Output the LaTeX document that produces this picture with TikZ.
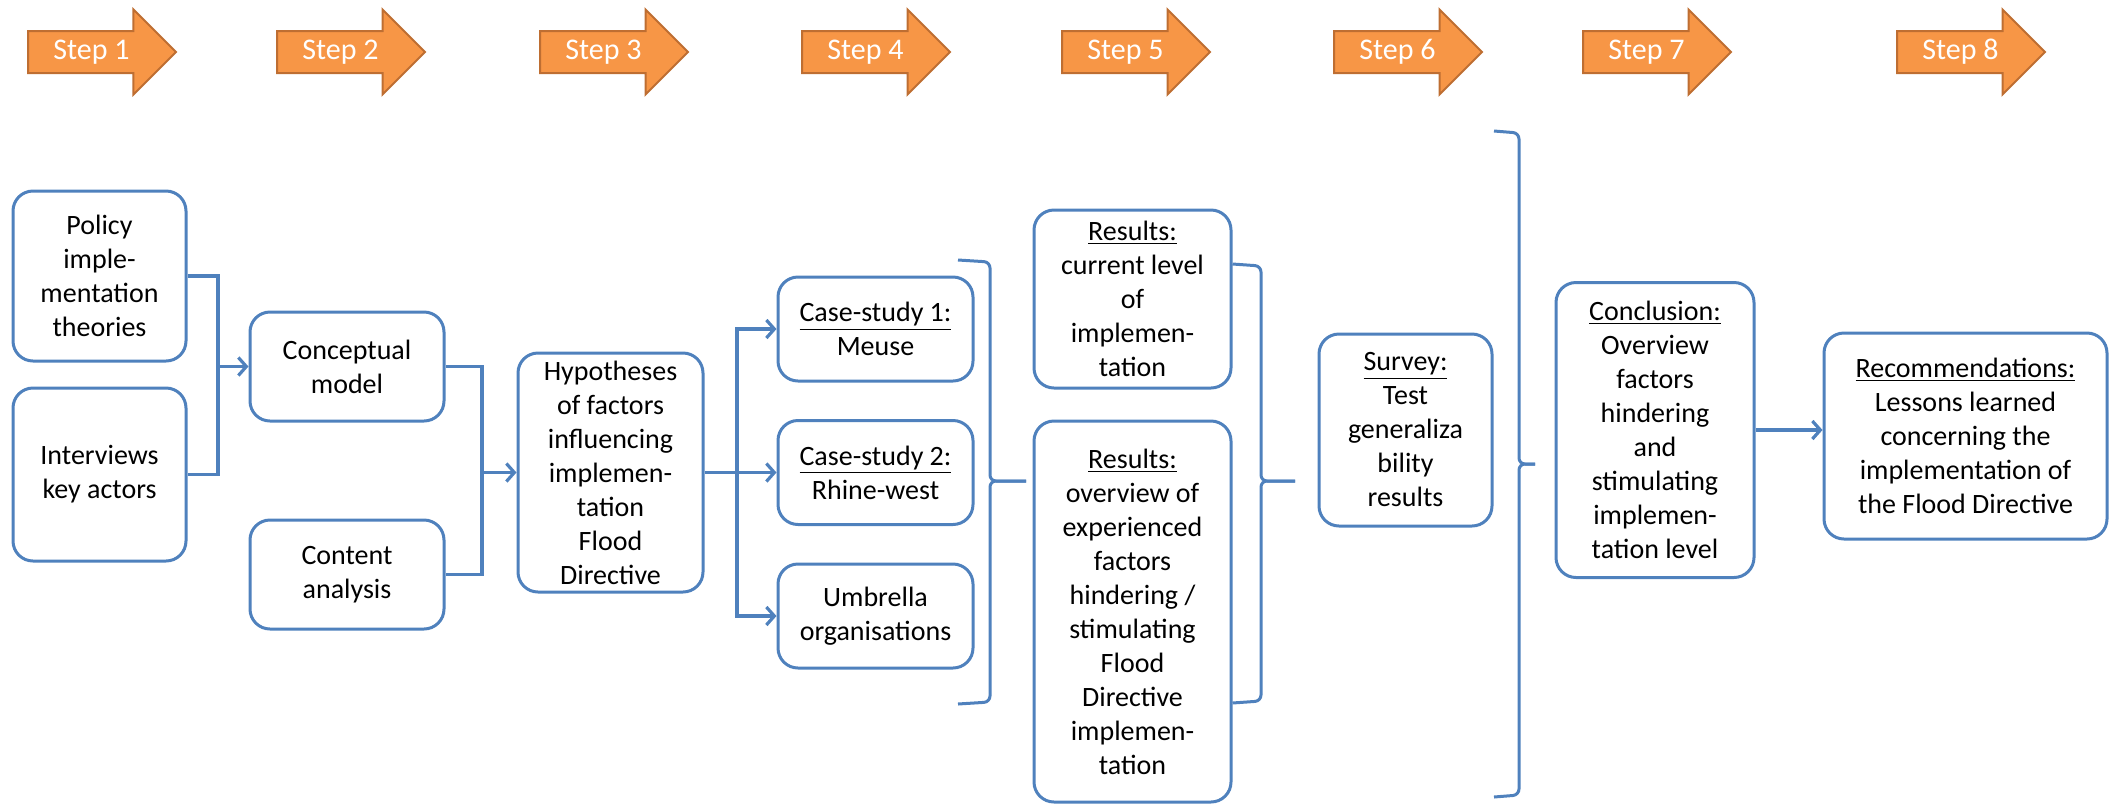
\documentclass[tikz,border=0pt]{standalone}
\usepackage{fontspec}
\setmainfont{Carlito}
\usepackage{tikz}
\usetikzlibrary{positioning,arrows.meta,shapes.arrows}
\definecolor{boxblue}{RGB}{79,129,189}
\definecolor{steporange}{RGB}{247,150,70}
\definecolor{stepedge}{RGB}{190,110,50}

\begin{document}
\begin{tikzpicture}[x=0.5pt, y=-0.5pt, font=\fontsize{14}{17}\selectfont,
  box/.style={draw=boxblue, line width=1.5pt, rounded corners=10pt, fill=white, align=center, inner sep=1pt},
  stepbox/.style={single arrow, draw=stepedge, line width=1pt, fill=steporange, text=white,
    font=\fontsize{15}{17}\selectfont, minimum height=74pt, single arrow head extend=10.75pt,
    text height=10pt, text depth=3pt, inner ysep=3.5pt, anchor=tail},
  flow/.style={draw=boxblue, line width=1.6pt, -{Straight Barb[length=4pt,width=9pt]}},
  link/.style={draw=boxblue, line width=1.6pt},
  brace/.style={draw=boxblue, line width=1.5pt, rounded corners=3pt}]
\useasboundingbox (0,0) rectangle (2111,805);

% step arrows
\node[stepbox] (step1) at (27,52) {Step 1};
\node[stepbox] (step2) at (276,52) {Step 2};
\node[stepbox] (step3) at (539,52) {Step 3};
\node[stepbox] (step4) at (801,52) {Step 4};
\node[stepbox] (step5) at (1061,52) {Step 5};
\node[stepbox] (step6) at (1333,52) {Step 6};
\node[stepbox] (step7) at (1582,52) {Step 7};
\node[stepbox] (step8) at (1896,52) {Step 8};

% boxes
\node[box, minimum width=86.5pt, minimum height=85pt] (policy) at (99.5,276) {Policy\\imple-\\mentation\\theories};
\node[box, minimum width=86.5pt, minimum height=86.5pt] (interv) at (99.5,474.5) {Interviews\\key actors};
\node[box, minimum width=97pt, minimum height=54.5pt] (concept) at (347,366.5) {Conceptual\\model};
\node[box, minimum width=97pt, minimum height=54.5pt] (content) at (347,574.5) {Content\\analysis};
\node[box, minimum width=92.5pt, minimum height=119.5pt, inner sep=0pt] (hypo) at (610.5,472.5) {Hypotheses\\of factors\\influencing\\implemen-\\tation\\Flood\\Directive};
\node[box, minimum width=97.5pt, minimum height=52pt] (case1) at (875.5,329) {\underline{Case-study 1:}\\Meuse};
\node[box, minimum width=97.5pt, minimum height=52pt] (case2) at (875.5,472.5) {\underline{Case-study 2:}\\Rhine-west};
\node[box, minimum width=97.5pt, minimum height=52pt] (umbr) at (875.5,616) {Umbrella\\organisations};
\node[box, minimum width=98.5pt, minimum height=89pt] (res1) at (1132.5,299) {\underline{Results:}\\current level\\of\\implemen-\\tation};
\node[box, minimum width=98.5pt, minimum height=190.5pt] (res2) at (1132.5,611.5) {\underline{Results:}\\overview of\\experienced\\factors\\hindering /\\stimulating\\Flood\\Directive\\implemen-\\tation};
\node[box, minimum width=86.5pt, minimum height=96pt] (survey) at (1405.5,430) {\underline{Survey:}\\Test\\generaliza\\bility\\results};
\node[box, minimum width=99pt, minimum height=147.5pt] (concl) at (1655,430) {\underline{Conclusion:}\\Overview\\factors\\hindering\\and\\stimulating\\implemen-\\tation level};
\node[box, minimum width=141.5pt, minimum height=103pt] (recom) at (1965.5,436) {\underline{Recommendations:}\\Lessons learned\\concerning the\\implementation of\\the Flood Directive};

% joints and brace tips
\coordinate (j1) at (218,366.5);
\coordinate (j2) at (482,472.5);
\coordinate (j3) at (737,472.5);
\coordinate (tip1) at (1026,481);
\coordinate (tip2) at (1295,481);
\coordinate (tip3) at (1535,464);

% connectors
\draw[link] (policy.east) -| (j1) |- (interv.east);
\draw[flow] (j1) -- (concept.west);
\draw[link] (concept.east) -| (j2) |- (content.east);
\draw[flow] (j2) -- (hypo.west);
\draw[link] (hypo.east) -- (j3);
\draw[flow] (j3) |- (case1.west);
\draw[flow] (j3) -- (case2.west);
\draw[flow] (j3) |- (umbr.west);
\draw[flow] (concl.east) -- (recom.west |- concl.east);

% brackets
\draw[brace] (958,260) -- (990,262) -- (990,481) -- (tip1);
\draw[brace] (958,704) -- (990,702) -- (990,481) -- (tip1);
\draw[brace] (res1.east |- 0,264) -- (1261,266) -- (1261,481) -- (tip2);
\draw[brace] (res2.east |- 0,703) -- (1261,701) -- (1261,481) -- (tip2);
\draw[brace] (1494,131) -- (1519,133) -- (1519,464) -- (tip3);
\draw[brace] (1494,797) -- (1519,795) -- (1519,464) -- (tip3);
\end{tikzpicture}
\end{document}
